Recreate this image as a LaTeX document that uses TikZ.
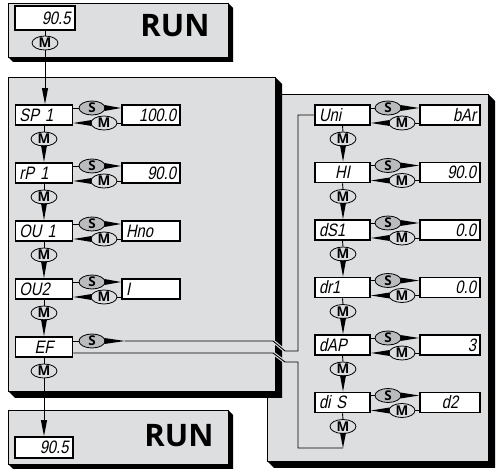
\documentclass[tikz,border=0pt]{standalone}
\usepackage{fontspec}
\setmainfont{Liberation Sans}
\newfontfamily\dispfont[FakeSlant=0.2,FakeStretch=0.82]{Liberation Sans}
\newfontfamily\runfont{Open Sans}
\usetikzlibrary{shapes.geometric,arrows.meta}
\definecolor{panelgray}{RGB}{221,222,224}
\definecolor{sgray}{RGB}{186,187,189}
\definecolor{mgray}{RGB}{220,221,223}
\tikzset{
  panelbox/.style={fill=panelgray, draw=black, line width=0.8pt},
  dispbox/.style={draw=black, line width=1.9pt, fill=white, inner sep=0pt,
     minimum height=20pt, font=\dispfont\fontsize{18}{18}\selectfont},
  pbox/.style={dispbox, minimum width=57pt, text width=49pt},
  vbox/.style={dispbox, minimum width=58pt, text width=50pt},
  bubble/.style={ellipse, draw=black, line width=0.8pt, inner sep=0pt,
     minimum width=26pt, minimum height=14pt,
     font=\runfont\bfseries\fontsize{13.5}{13.5}\selectfont},
  sb/.style={bubble, fill=sgray},
  mb/.style={bubble, fill=mgray},
  runtxt/.style={font=\runfont\bfseries\fontsize{31}{31}\selectfont, inner sep=0pt},
  conn/.style={draw=black, line width=0.9pt},
  arr/.style={conn, -{Triangle[length=16pt,width=6pt]}},
  casing/.style={draw=panelgray, line width=3.2pt}
}
\newcommand{\shpanel}[5]{%
  \fill[black] (#3,#2) -- (#3+#5,#2+#5) -- (#3+#5,#4+#5) -- (#1+#5,#4+#5) -- (#1,#4) -- cycle;
  \draw[panelbox] (#1,#2) rectangle (#3,#4);}
\newcommand{\rowconn}[4]{%
  \draw[conn] (#1.east |- #2) -- (#2.west);
  \fill ([xshift=-1pt,yshift=3pt]#2.east) -- ([xshift=-1pt,yshift=-3pt]#2.east) -- (#4.west |- #2) -- cycle;
  \draw[conn] (#4.west |- #3) -- (#3.east);
  \fill ([xshift=1pt,yshift=3pt]#3.west) -- ([xshift=1pt,yshift=-3pt]#3.west) -- (#1.east |- #3) -- cycle;}
\newcommand{\vconn}[3]{%
  \draw[conn] (#1.south) -- (#2.north);
  \fill ([xshift=-3pt,yshift=1pt]#2.south) -- ([xshift=3pt,yshift=1pt]#2.south) -- (#2.south |- #3.north) -- cycle;}
\begin{document}
\begin{tikzpicture}[x=1pt,y=-1pt]
\useasboundingbox (0,0) rectangle (496,470);
% panels
\shpanel{267}{94}{488}{461}{7}
\shpanel{8}{77}{275}{391}{7}
\shpanel{8}{3}{228}{57}{5}
\shpanel{8}{410}{228}{464}{5}
% top RUN
\node[dispbox, minimum width=60pt, minimum height=24pt, text width=51pt, align=right] (d0) at (45,18) {90.5};
\node[mb] (m0) at (45,43) {M};
\node[runtxt] (run0) at (175,26) {RUN};
% bottom RUN
\node[dispbox, minimum width=58pt, minimum height=21pt, text width=49pt, align=right] (d6) at (44,447.5) {90.5};
\node[runtxt] (run1) at (179,436) {RUN};
% left rows
\node[pbox, align=left] (p1) at (44,115) {SP 1};
\node[vbox, align=right] (v1) at (151,115) {100.0};
\node[sb] (s1) at (92,108) {S};
\node[mb] (r1) at (104,123) {M};
\node[mb] (n1) at (44,139) {M};
\node[pbox, align=left] (p2) at (44,173) {rP 1};
\node[vbox, align=right] (v2) at (151,173) {90.0};
\node[sb] (s2) at (92,166) {S};
\node[mb] (r2) at (104,181) {M};
\node[mb] (n2) at (44,197) {M};
\node[pbox, align=left] (p3) at (44,231) {OU 1};
\node[vbox, align=left] (v3) at (151,231) {Hno};
\node[sb] (s3) at (92,224) {S};
\node[mb] (r3) at (104,239) {M};
\node[mb] (n3) at (44,255) {M};
\node[pbox, align=left] (p4) at (44,289) {OU2};
\node[vbox, align=left] (v4) at (151,289) {I};
\node[sb] (s4) at (92,282) {S};
\node[mb] (r4) at (104,297) {M};
\node[mb] (n4) at (44,313) {M};
\node[pbox, align=center] (p5) at (44,347) {EF};
\node[sb] (s5) at (92,341) {S};
\node[mb] (n5) at (44,371) {M};
% right rows
\node[pbox, minimum width=55pt, text width=47pt, align=left] (q1) at (342.5,115) {Uni};
\node[vbox, minimum width=60pt, text width=52pt, align=right] (w1) at (450,115) {bAr};
\node[sb] (qs1) at (388,108) {S};
\node[mb] (qm1) at (402,123) {M};
\node[mb] (qv1) at (343,139) {M};
\node[pbox, minimum width=55pt, text width=47pt, align=center] (q2) at (342.5,172.5) {HI};
\node[vbox, minimum width=60pt, text width=52pt, align=right] (w2) at (450,172.5) {90.0};
\node[sb] (qs2) at (388,165.5) {S};
\node[mb] (qm2) at (402,180.5) {M};
\node[mb] (qv2) at (343,196.5) {M};
\node[pbox, minimum width=55pt, text width=47pt, align=left] (q3) at (342.5,230) {dS1};
\node[vbox, minimum width=60pt, text width=52pt, align=right] (w3) at (450,230) {0.0};
\node[sb] (qs3) at (388,223) {S};
\node[mb] (qm3) at (402,238) {M};
\node[mb] (qv3) at (343,254) {M};
\node[pbox, minimum width=55pt, text width=47pt, align=left] (q4) at (342.5,287.5) {dr1};
\node[vbox, minimum width=60pt, text width=52pt, align=right] (w4) at (450,287.5) {0.0};
\node[sb] (qs4) at (388,280.5) {S};
\node[mb] (qm4) at (402,295.5) {M};
\node[mb] (qv4) at (343,311.5) {M};
\node[pbox, minimum width=55pt, text width=47pt, align=left] (q5) at (342.5,345) {dAP};
\node[vbox, minimum width=60pt, text width=52pt, align=right] (w5) at (450,345) {3};
\node[sb] (qs5) at (388,338) {S};
\node[mb] (qm5) at (402,353) {M};
\node[mb] (qv5) at (343,369) {M};
\node[pbox, minimum width=55pt, text width=47pt, align=left] (q6) at (342.5,402.5) {di S};
\node[vbox, minimum width=60pt, text width=52pt, align=center] (w6) at (450,402.5) {d2};
\node[sb] (qs6) at (388,395.5) {S};
\node[mb] (qm6) at (402,410.5) {M};
\node[mb] (qv6) at (343,426.5) {M};
% route coordinates
\coordinate (ja) at (125,341);
\coordinate (jb) at (273,341);
\coordinate (jc) at (285,351);
\coordinate (jd) at (298,351);
\coordinate (lb) at (343,448);
\coordinate (ka) at (298,448);
\coordinate (kb) at (298,362);
\coordinate (kc) at (285,362);
\coordinate (kd) at (273,353);
% connectors
\draw[conn] (d0.south) -- (m0.north);
\draw[arr] (m0.south) -- (m0.south |- p1.north);
\rowconn{p1}{s1}{r1}{v1}
\rowconn{p2}{s2}{r2}{v2}
\rowconn{p3}{s3}{r3}{v3}
\rowconn{p4}{s4}{r4}{v4}
\vconn{p1}{n1}{p2}
\vconn{p2}{n2}{p3}
\vconn{p3}{n3}{p4}
\vconn{p4}{n4}{p5}
\draw[conn] (p5.south) -- (n5.north);
\draw[arr] (n5.south) -- (n5.south |- d6.north);
\rowconn{q1}{qs1}{qm1}{w1}
\rowconn{q2}{qs2}{qm2}{w2}
\rowconn{q3}{qs3}{qm3}{w3}
\rowconn{q4}{qs4}{qm4}{w4}
\rowconn{q5}{qs5}{qm5}{w5}
\rowconn{q6}{qs6}{qm6}{w6}
\vconn{q1}{qv1}{q2}
\vconn{q2}{qv2}{q3}
\vconn{q3}{qv3}{q4}
\vconn{q4}{qv4}{q5}
\vconn{q5}{qv5}{q6}
\draw[conn] (q6.south) -- (qv6.north);
\fill ([xshift=-3pt,yshift=1pt]qv6.south) -- ([xshift=3pt,yshift=1pt]qv6.south) -- (lb) -- cycle;
% EF routes
\draw[conn] (p5.east |- s5) -- (s5.west);
\fill ([xshift=-1pt,yshift=3pt]s5.east) -- ([xshift=-1pt,yshift=-3pt]s5.east) -- (ja) -- cycle;
\draw[casing] ([xshift=-4pt]jb) -- (jb) -- (jc) -- ([xshift=2pt]jc);
\draw[casing] ([xshift=2pt]kc) -- (kc) -- (kd) -- ([xshift=-4pt]kd);
\draw[conn] (ja) -- (jb) -- (jc) -- (jd) -- (jd |- q1.west) -- (q1.west);
\draw[conn] (lb) -- (ka) -- (kb) -- (kc) -- (kd) -- (p5.east |- kd);
\end{tikzpicture}
\end{document}
